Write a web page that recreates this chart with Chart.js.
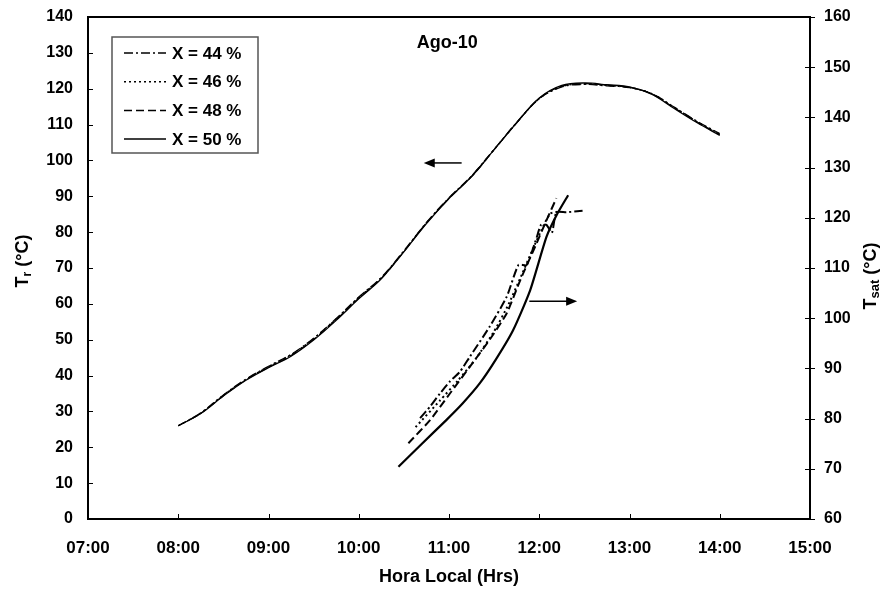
<!DOCTYPE html>
<html>
<head>
<meta charset="utf-8">
<script src="https://cdn.jsdelivr.net/npm/chart.js@4.4.1/dist/chart.umd.min.js"></script>
<style>
  html, body { margin: 0; padding: 0; background: #fff; }
  #wrap { width: 888px; height: 593px; position: relative; }
</style>
</head>
<body>
<div id="wrap"><canvas id="c" width="888" height="593"></canvas></div>
<script>
// Mixture fractions shown in the legend
const seriesLabels = ['X = 44 %', 'X = 46 %', 'X = 48 %', 'X = 50 %'];
const hourTickLabels = ['07:00', '08:00', '09:00', '10:00', '11:00', '12:00', '13:00', '14:00', '15:00'];

// Receiver temperature Tr (°C), left axis
const trHours = [8.00, 8.25, 8.50, 8.75, 9.00, 9.25, 9.50, 9.75, 10.00, 10.25, 10.50, 10.75, 11.00,
                 11.25, 11.50, 11.75, 12.00, 12.25, 12.50, 12.75, 13.00, 13.25, 13.50, 13.75, 14.00];
const tr44 = [26.0, 29.6, 34.6, 39.0, 42.6, 45.9, 50.4, 55.9, 61.9, 67.4, 74.8, 82.7, 89.6,
              95.7, 103.1, 110.6, 117.2, 120.5, 121.2, 120.8, 120.3, 118.6, 114.8, 110.9, 107.5];
const tr46 = [26.0, 29.5, 34.5, 38.9, 42.5, 45.8, 50.3, 55.8, 61.8, 67.3, 74.7, 82.6, 89.5,
              95.6, 103.0, 110.5, 117.2, 120.6, 121.3, 120.9, 120.4, 118.6, 114.7, 110.8, 107.3];
const tr48 = [26.0, 29.5, 34.4, 38.8, 42.3, 45.6, 50.1, 55.6, 61.6, 67.1, 74.6, 82.5, 89.4,
              95.5, 103.0, 110.5, 117.3, 120.7, 121.4, 121.0, 120.4, 118.5, 114.6, 110.7, 107.2];
const tr50 = [26.0, 29.4, 34.3, 38.7, 42.2, 45.4, 49.9, 55.4, 61.4, 67.0, 74.5, 82.4, 89.4,
              95.5, 103.0, 110.5, 117.4, 120.9, 121.6, 121.1, 120.5, 118.4, 114.4, 110.5, 107.0];

// Saturation temperature Tsat (°C), right axis
const tsatHours44 = [10.68, 10.79, 10.90, 11.01, 11.12, 11.23, 11.45, 11.64, 11.77, 11.86, 11.97, 12.02, 12.08, 12.14, 12.19, 12.30, 12.48];
const tsat44      = [80.1, 82.4, 85.0, 87.4, 89.3, 92.3, 98.3, 104.3, 110.6, 110.6, 116.0, 118.6, 118.6, 117.0, 121.1, 121.1, 121.4];
const tsatHours46 = [10.63, 10.90, 11.10, 11.30, 11.50, 11.65, 11.80, 11.92, 12.02, 12.12, 12.20];
const tsat46      = [78.3, 83.6, 87.6, 92.0, 97.4, 102.4, 108.4, 113.4, 117.4, 120.8, 121.2];
const tsatHours48 = [10.55, 10.79, 11.01, 11.23, 11.45, 11.64, 11.79, 11.97, 12.08, 12.19];
const tsat48      = [75.1, 79.7, 85.0, 90.3, 95.7, 101.0, 107.6, 114.9, 119.5, 123.9];
const tsatHours50 = [10.44, 10.70, 10.97, 11.15, 11.34, 11.52, 11.71, 11.90, 12.08, 12.20, 12.32];
const tsat50      = [70.4, 75.0, 79.7, 83.0, 87.0, 91.8, 97.6, 105.6, 116.2, 120.8, 124.5];

// Line styles per mixture: dash-dot, dotted, dashed, solid
const dashes = [[9, 3, 2, 3], [2, 3], [8, 4], []];

const pts = (xs, ys) => xs.map((x, i) => ({ x: x, y: ys[i] }));

const trSets = [tr44, tr46, tr48, tr50];
const tsatSets = [[tsatHours44, tsat44], [tsatHours46, tsat46], [tsatHours48, tsat48], [tsatHours50, tsat50]];

const datasets = [];
trSets.forEach((vals, i) => {
  datasets.push({
    label: seriesLabels[i], data: pts(trHours, vals), yAxisID: 'y',
    borderColor: '#000', borderWidth: 1.3, borderDash: dashes[i],
    pointRadius: 0, tension: 0.35, fill: false
  });
});
tsatSets.forEach(([xs, ys], i) => {
  datasets.push({
    label: seriesLabels[i], data: pts(xs, ys), yAxisID: 'y2',
    borderColor: '#000', borderWidth: i === 3 ? 2.2 : 2, borderDash: dashes[i],
    pointRadius: 0, tension: 0.2, fill: false
  });
});

const FONT = "'Liberation Sans', Arial, sans-serif";

// Fixed axis boxes so the plot frame sits where it should
const fitVertical = w => s => { s.width = w; s.paddingTop = 0; s.paddingBottom = 0; };

// Frame, inward ticks, arrows, title, y-axis titles with subscripts and the boxed legend
const decorations = {
  id: 'decorations',
  afterDraw(chart) {
    const { ctx, chartArea: a, scales } = chart;
    const x = scales.x, y = scales.y, y2 = scales.y2;
    ctx.save();
    ctx.strokeStyle = '#000';
    ctx.lineWidth = 2;
    ctx.strokeRect(a.left, a.top, a.right - a.left, a.bottom - a.top);

    ctx.lineWidth = 1;
    ctx.beginPath();
    x.ticks.forEach(t => {
      const px = Math.round(x.getPixelForValue(t.value)) + 0.5;
      ctx.moveTo(px, a.bottom); ctx.lineTo(px, a.bottom - 5);
    });
    y.ticks.forEach(t => {
      const py = Math.round(y.getPixelForValue(t.value)) + 0.5;
      ctx.moveTo(a.left, py); ctx.lineTo(a.left + 5, py);
    });
    y2.ticks.forEach(t => {
      const py = Math.round(y2.getPixelForValue(t.value)) + 0.5;
      ctx.moveTo(a.right - 5, py); ctx.lineTo(a.right + 5, py);
    });
    ctx.stroke();

    // Arrows pointing to the axis each curve family belongs to
    const arrow = (x1, x2, yy) => {
      const dir = Math.sign(x2 - x1);
      ctx.lineWidth = 1.5;
      ctx.beginPath(); ctx.moveTo(x1, yy); ctx.lineTo(x2 - dir * 8, yy); ctx.stroke();
      ctx.beginPath();
      ctx.moveTo(x2, yy); ctx.lineTo(x2 - dir * 11, yy - 4.5); ctx.lineTo(x2 - dir * 11, yy + 4.5);
      ctx.closePath(); ctx.fill();
    };
    ctx.fillStyle = '#000';
    arrow(x.getPixelForValue(11.14), x.getPixelForValue(10.72), y.getPixelForValue(99.3));
    arrow(x.getPixelForValue(11.89), x.getPixelForValue(12.42), y2.getPixelForValue(103.4));

    // Month label
    ctx.font = 'bold 18px ' + FONT;
    ctx.textAlign = 'center'; ctx.textBaseline = 'middle';
    ctx.fillText('Ago-10', x.getPixelForValue(10.98), y.getPixelForValue(132.8));

    // Rotated axis titles with subscripts
    const subTitle = (cx, cy, main, sub, rest, subSize) => {
      ctx.save();
      ctx.translate(cx, cy);
      ctx.rotate(-Math.PI / 2);
      const fMain = 'bold 18px ' + FONT, fSub = 'bold ' + subSize + 'px ' + FONT;
      ctx.font = fMain; const w1 = ctx.measureText(main).width, w3 = ctx.measureText(rest).width;
      ctx.font = fSub; const w2 = ctx.measureText(sub).width;
      let sx = -(w1 + w2 + w3) / 2;
      ctx.textAlign = 'left'; ctx.textBaseline = 'alphabetic';
      ctx.font = fMain; ctx.fillText(main, sx, 6.5); sx += w1;
      ctx.font = fSub; ctx.fillText(sub, sx, 10); sx += w2;
      ctx.font = fMain; ctx.fillText(rest, sx, 6.5);
      ctx.restore();
    };
    subTitle(21, 261, 'T', 'r', ' (°C)', 12);
    subTitle(869, 276, 'T', 'sat', ' (°C)', 13);

    // Legend box
    const lx = a.left + 24, ly = a.top + 20, lw = 146, lh = 116;
    ctx.fillStyle = '#fff';
    ctx.fillRect(lx, ly, lw, lh);
    ctx.strokeStyle = '#555'; ctx.lineWidth = 1.5;
    ctx.strokeRect(lx, ly, lw, lh);
    ctx.fillStyle = '#000'; ctx.strokeStyle = '#000';
    ctx.font = 'bold 17px ' + FONT;
    ctx.textAlign = 'left'; ctx.textBaseline = 'middle';
    seriesLabels.forEach((lab, i) => {
      const ry = ly + 16 + i * 28.7;
      ctx.lineWidth = 1.5;
      ctx.setLineDash(dashes[i]);
      ctx.beginPath(); ctx.moveTo(lx + 12, ry); ctx.lineTo(lx + 54, ry); ctx.stroke();
      ctx.setLineDash([]);
      ctx.fillText(lab, lx + 60, ry + 1);
    });
    ctx.restore();
  }
};

new Chart(document.getElementById('c'), {
  type: 'line',
  data: { datasets: datasets },
  options: {
    responsive: false,
    animation: false,
    devicePixelRatio: 1,
    layout: { padding: { top: 17, left: 0, right: 0, bottom: 0 } },
    plugins: { legend: { display: false }, tooltip: { enabled: false } },
    scales: {
      x: {
        type: 'linear', min: 7, max: 15,
        afterFit: s => { s.height = 74; s.paddingLeft = 0; s.paddingRight = 0; },
        grid: { display: false, drawTicks: false },
        border: { display: false },
        ticks: {
          stepSize: 1, padding: 19, color: '#000', maxRotation: 0, autoSkip: false,
          font: { family: FONT, size: 17, weight: 'bold' },
          callback: v => hourTickLabels[Math.round(v - 7)]
        },
        title: {
          display: true, text: 'Hora Local (Hrs)', color: '#000',
          font: { family: FONT, size: 18, weight: 'bold' },
          padding: { top: 0, bottom: 5 }
        }
      },
      y: {
        position: 'left', min: 0, max: 140,
        afterFit: fitVertical(88),
        grid: { display: false, drawTicks: false },
        border: { display: false },
        ticks: { stepSize: 10, padding: 15, color: '#000', font: { family: FONT, size: 16, weight: 'bold' } }
      },
      y2: {
        position: 'right', min: 60, max: 160,
        afterFit: fitVertical(78),
        grid: { display: false, drawTicks: false },
        border: { display: false },
        ticks: { stepSize: 10, padding: 14, color: '#000', font: { family: FONT, size: 16, weight: 'bold' } }
      }
    }
  },
  plugins: [decorations]
});
</script>
</body>
</html>
